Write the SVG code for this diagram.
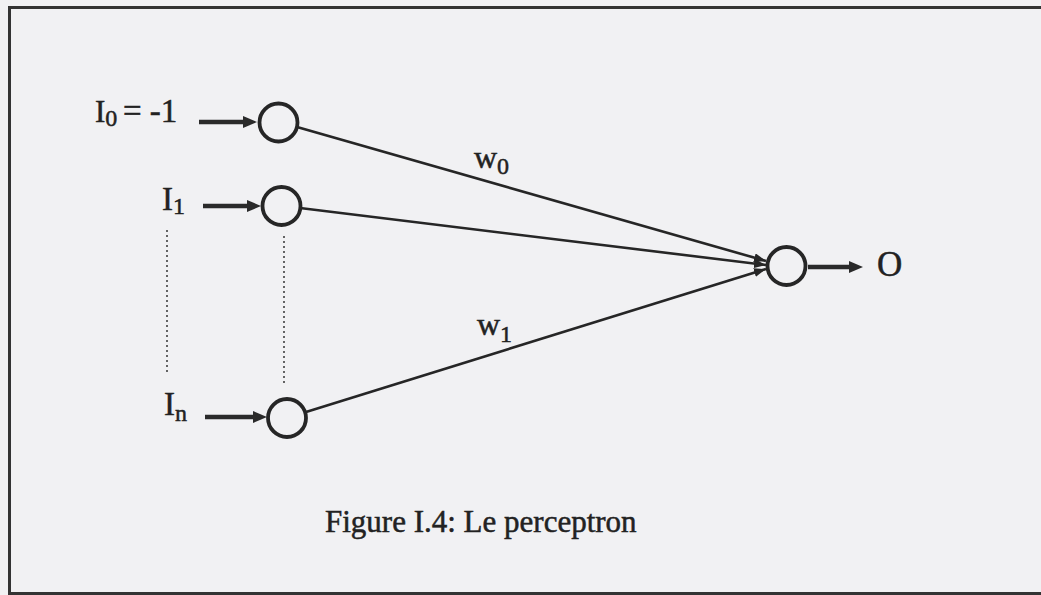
<svg xmlns="http://www.w3.org/2000/svg" width="1041" height="595" viewBox="0 0 1041 595">
<defs>
<style>
.t{font-family:"Liberation Serif","Times New Roman",serif;fill:#222;stroke:#222;stroke-width:0.5}
.node{fill:none;stroke:#262626;stroke-width:3.8}
.thick{stroke:#2a2a2a;stroke-width:4.5;fill:none}
.thin{stroke:#262626;stroke-width:2.6;fill:none}
.dots{stroke:#333;stroke-width:2;stroke-dasharray:0 5;stroke-linecap:round;fill:none}
</style>
<marker id="headThick" viewBox="0 0 14 12" refX="6" refY="6" markerWidth="14" markerHeight="12" markerUnits="userSpaceOnUse" orient="auto">
<path d="M0,0 L14,6 L0,12 z" fill="#2a2a2a"/>
</marker>
<marker id="headThin" viewBox="0 0 12 9" refX="12" refY="4.5" markerWidth="12" markerHeight="9" markerUnits="userSpaceOnUse" orient="auto">
<path d="M0,0 L12,4.5 L0,9 z" fill="#262626"/>
</marker>
</defs>
<rect x="0" y="0" width="1041" height="595" fill="#f1f1f3"/>
<path d="M1041,7.5 H9.5 V593.5 H1041" fill="none" stroke="#333" stroke-width="3"/>

<g id="connectors">
<line class="thick" x1="199" y1="122" x2="249" y2="122" marker-end="url(#headThick)"/>
<line class="thick" x1="203" y1="206" x2="253" y2="206" marker-end="url(#headThick)"/>
<line class="thick" x1="205" y1="417" x2="259" y2="417" marker-end="url(#headThick)"/>
<line class="thin" x1="297" y1="127" x2="766" y2="261" marker-end="url(#headThin)"/>
<line class="thin" x1="300" y1="208" x2="766" y2="265" marker-end="url(#headThin)"/>
<line class="thin" x1="306" y1="412" x2="766" y2="269" marker-end="url(#headThin)"/>
<line class="thick" x1="808" y1="267" x2="855" y2="267" marker-end="url(#headThick)"/>
<line class="dots" x1="167" y1="231" x2="167" y2="376"/>
<line class="dots" x1="284" y1="237" x2="284" y2="383"/>
</g>

<g id="in0">
<circle class="node" cx="278.5" cy="122.5" r="19"/>
<text class="t" x="95" y="122" font-size="31">I<tspan font-size="24" dy="4">0</tspan></text>
<text class="t" x="123" y="122" font-size="33">= -1</text>
</g>
<g id="in1">
<circle class="node" cx="281.5" cy="206" r="19"/>
<text class="t" x="162" y="210" font-size="33">I<tspan font-size="24" dy="4">1</tspan></text>
</g>
<g id="inN">
<circle class="node" cx="287" cy="418" r="19"/>
<text class="t" x="164" y="415" font-size="33">I<tspan font-size="24" dy="6">n</tspan></text>
</g>
<g id="out">
<circle class="node" cx="786.5" cy="266" r="19"/>
<text class="t" x="877" y="276" font-size="35">O</text>
</g>
<g id="labels">
<text class="t" x="474" y="168" font-size="32">w<tspan font-size="24" dy="6">0</tspan></text>
<text class="t" x="477" y="335" font-size="32">w<tspan font-size="24" dy="7">1</tspan></text>
<text class="t" x="325" y="532" font-size="31">Figure I.4: Le perceptron</text>
</g>
</svg>
